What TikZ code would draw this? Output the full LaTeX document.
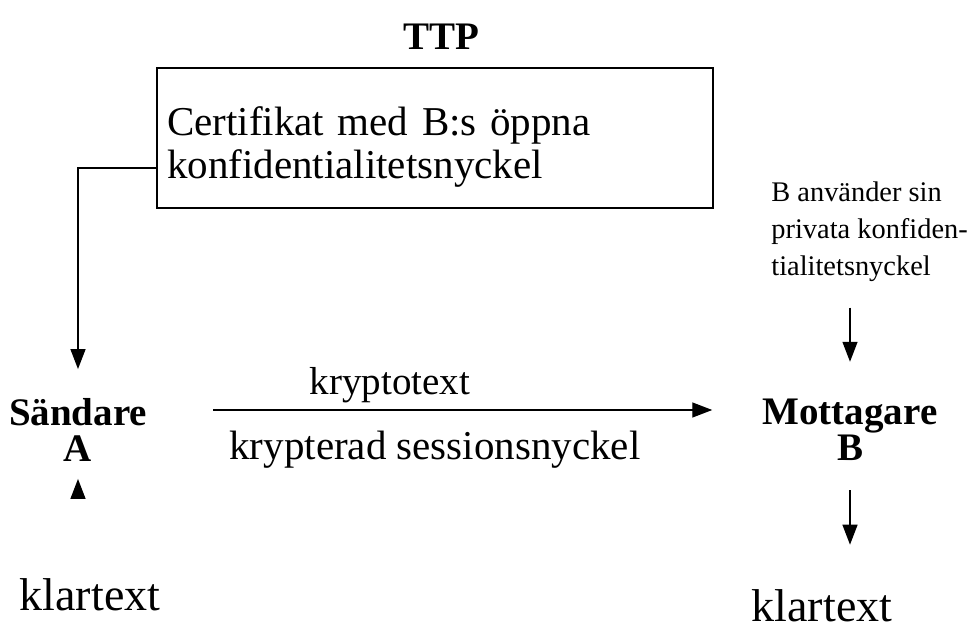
\documentclass[tikz,border=0pt]{standalone}
\usepackage{fontspec}
\setmainfont{Liberation Serif}
\usetikzlibrary{arrows.meta,positioning}

\begin{document}
\begin{tikzpicture}[
  x=0.5pt,y=-0.5pt,
  >={Triangle[length=10pt,width=7.5pt]},
  lbl/.style={font=\fontsize{20.5}{23.5}\selectfont,inner sep=0pt,align=center},
  party/.style={lbl,font=\fontsize{19.5}{18}\selectfont\bfseries},
  plain/.style={lbl,font=\fontsize{23}{26}\selectfont},
  note/.style={font=\fontsize{14.2}{18.5}\selectfont,inner sep=0pt,align=left},
  certbox/.style={draw,line width=0.7pt,minimum width=278pt,minimum height=70pt,inner xsep=5pt,align=left,text width=268pt,font=\fontsize{20.5}{21.5}\selectfont},
  edge/.style={->,line width=0.7pt}
]
\useasboundingbox (0,0) rectangle (974,630);
\node[party,anchor=base] (ttp) at (441,50) {TTP};
\node[certbox] (cert) at (435,138) {\rule{0pt}{23pt}Certifikat med B:s öppna\\konfidentialitetsnyckel};
\node[party] (sA) at (78,430) {Sändare\\A};
\node[party] (mB) at (850,430) {Mottagare\\B};
\node[plain,anchor=base] (klA) at (90,610) {klartext};
\node[plain,anchor=base] (klB) at (822,621) {klartext};
\node[note,anchor=north west] (priv) at (771,181) {B använder sin\\privata konfiden-\\tialitetsnyckel};
\node[lbl,font=\fontsize{19.5}{23.5}\selectfont,anchor=base] (ct) at (390,394) {kryptotext};
\node[lbl,anchor=base] (sk) at (435,459) {krypterad sessionsnyckel};
% connectors
\draw[edge,shorten >=14.5pt] ([yshift=-15pt]cert.west) -| (sA.north);
\draw[edge,shorten <=33pt,shorten >=25pt] ([yshift=10pt]sA.east) -- ([yshift=10pt]mB.west);
\draw[edge,shorten <=40.5pt,shorten >=8.5pt] (klA.north -| sA.south) -- (sA.south);
\draw[edge,shorten <=13pt,shorten >=18.5pt] (priv.south -| mB.north) -- (mB.north);
\draw[edge,shorten <=14.5pt,shorten >=22pt] (mB.south) -- (mB.south |- klB.north);
\end{tikzpicture}
\end{document}
